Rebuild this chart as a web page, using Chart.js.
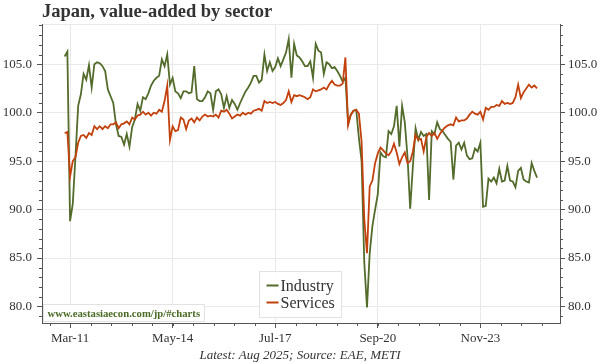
<!DOCTYPE html>
<html>
<head>
<meta charset="utf-8">
<script src="https://cdn.jsdelivr.net/npm/chart.js@4.4.1/dist/chart.umd.min.js"></script>
<style>
  html, body { margin: 0; padding: 0; background: #fff; }
</style>
</head>
<body>
<canvas id="chart" width="600" height="364"></canvas>
<script>
// Monthly series, Jan 2011 .. Aug 2025 (index 0 = Jan 2011)
const industry = [
  105.8, 106.3, 88.8, 90.6, 95.5, 100.7, 101.9, 104.0, 103.4, 104.9,
  102.6, 105.0, 105.2, 105.1, 104.8, 104.3, 102.4, 101.7, 101.0, 98.8,
  97.6, 97.5, 96.7, 97.8, 96.5, 98.5, 99.3, 100.9, 100.2, 101.6,
  101.4, 102.0, 102.8, 103.3, 103.6, 103.8, 105.5, 104.8, 106.0, 102.9,
  103.6, 102.2, 102.0, 101.5, 102.2, 102.2, 102.0, 102.1, 104.8, 101.4,
  101.2, 101.2, 101.6, 102.2, 102.0, 100.3, 102.2, 102.4, 101.9, 100.5,
  101.7, 100.5, 101.3, 100.9, 100.3, 101.0, 101.6, 102.2, 102.6, 103.1,
  103.8, 103.8, 103.1, 103.4, 106.0, 104.3, 105.2, 104.3, 104.7, 105.6,
  104.8, 105.5, 106.2, 107.6, 103.6, 107.1, 105.9, 105.7, 105.3, 104.8,
  104.8, 105.3, 103.6, 107.1, 106.4, 106.2, 104.0, 105.2, 105.0, 104.6,
  104.7, 104.3, 103.8, 103.2, 103.6, 98.9, 99.8, 100.2, 100.3, 97.4,
  95.0, 84.5, 79.9, 85.5, 88.3, 90.0, 91.6, 95.9, 95.5, 95.4,
  98.1, 97.8, 98.6, 100.7, 96.5, 100.7, 99.0, 95.5, 90.1, 94.5,
  98.4, 97.2, 98.0, 97.6, 97.8, 91.0, 98.1, 97.8, 99.0, 98.3,
  98.1, 97.7, 97.3, 97.0, 93.1, 96.6, 96.9, 96.2, 96.9, 95.6,
  95.2, 95.3, 96.3, 96.0, 96.9, 90.3, 90.4, 93.2, 92.9, 93.3,
  92.7, 94.2, 92.9, 93.0, 94.5, 93.0, 92.9, 92.3, 94.0, 94.3,
  93.1, 92.9, 92.8, 94.8, 94.0, 93.3
];
const services = [
  97.9, 98.0, 93.4, 95.0, 95.4, 96.9, 97.6, 97.7, 97.4, 97.9,
  97.7, 98.6, 98.3, 98.6, 98.3, 98.6, 98.4, 98.8, 98.8, 99.0,
  98.4, 98.8, 98.9, 99.1, 98.8, 99.5, 99.3, 99.7, 99.8, 100.1,
  99.8, 100.0, 99.7, 100.0, 99.9, 100.3, 100.1, 101.2, 102.8, 97.2,
  98.6, 98.1, 98.2, 99.5, 99.3, 98.3, 99.2, 99.4, 99.0, 99.5,
  99.2, 99.6, 99.8, 99.6, 99.7, 99.6, 99.8, 99.5, 100.2, 100.1,
  100.3, 99.9, 99.4, 99.6, 99.8, 99.7, 100.0, 99.8, 100.0, 99.9,
  100.2, 100.3, 100.4, 100.2, 101.2, 101.0, 101.1, 101.0, 101.1, 100.9,
  100.8, 101.0, 101.3, 102.2, 101.1, 101.8, 101.7, 101.8, 101.7, 101.6,
  101.4, 101.6, 102.4, 102.2, 102.3, 102.4, 102.6, 102.4, 102.9, 103.3,
  102.9, 102.8, 102.8, 103.0, 105.7, 98.7, 99.8, 100.2, 100.3, 99.9,
  97.0, 89.0, 85.5, 92.4, 93.0, 94.8, 95.8, 96.4, 96.1, 95.8,
  95.6, 96.0, 96.8, 95.9, 94.7, 95.4, 95.9, 94.8, 95.0, 96.0,
  97.7, 97.2, 97.3, 96.0, 97.5, 97.9, 97.6, 97.9, 97.3, 97.8,
  98.2, 98.5, 98.7, 98.8, 98.7, 99.5, 99.1, 99.2, 99.2, 99.4,
  99.8, 100.1, 99.9, 99.8, 100.1, 99.3, 100.5, 100.3, 100.6, 100.6,
  100.8, 100.7, 101.2, 100.9, 101.0, 100.9, 101.0, 101.6, 102.9, 101.5,
  102.1, 102.5, 102.9, 102.6, 102.8, 102.5
];

// Axis ticks
const xTickMonths = [2, 40, 78, 116, 154];
const xTickLabels = ['Mar-11', 'May-14', 'Jul-17', 'Sep-20', 'Nov-23'];
const yTicks = [80, 85, 90, 95, 100, 105];

const GREEN = '#536b2b';
const RED = '#c2410c';
const GRID = '#e9e9e9';
const AXIS = '#555555';
const TEXT = '#333333';

const toPoints = arr => arr.map((v, i) => ({ x: i, y: v }));

// --------------------------------------------------------------------------

// Petits ticks secondaires (x tous les 7.6 mois, y chaque point)
const minorTicks = {
    id: 'minorTicks',
    afterDraw(chart) {
        const { ctx, chartArea, scales } = chart;
        ctx.save();
        ctx.strokeStyle = AXIS;
        ctx.lineWidth = 1;
        ctx.beginPath();
        const xs = scales.x;
        for (let v = xTickMonths[0] - 7.6; v <= xs.max; v += 7.6) {
            if (v < xs.min) continue;
            const px = Math.round(xs.getPixelForValue(v)) + 0.5;
            ctx.moveTo(px, chartArea.bottom);
            ctx.lineTo(px, chartArea.bottom + 3);
        }
        const ys = scales.y;
        for (let v = Math.ceil(ys.min); v <= ys.max; v++) {
            if (v % 5 === 0) continue;
            const py = Math.round(ys.getPixelForValue(v)) + 0.5;
            ctx.moveTo(chartArea.left, py);
            ctx.lineTo(chartArea.left - 3, py);
            ctx.moveTo(chartArea.right, py);
            ctx.lineTo(chartArea.right + 3, py);
        }
        ctx.stroke();
        ctx.restore();
    }
};

// Légende dans le graphique + lien du site
const boxes = {
    id: 'boxes',
    afterDraw(chart) {
        const { ctx } = chart;
        ctx.save();
        // legend
        const lx = 259.5, ly = 271.5, lw = 82, lh = 46;
        ctx.fillStyle = 'rgba(255,255,255,0.9)';
        ctx.fillRect(lx, ly, lw, lh);
        ctx.strokeStyle = '#e2e2e2';
        ctx.lineWidth = 1;
        ctx.strokeRect(lx, ly, lw, lh);
        ctx.font = '16px "Liberation Serif"';
        ctx.textBaseline = 'middle';
        chart.data.datasets.forEach((ds, i) => {
            const y = ly + 14 + i * 17;
            ctx.strokeStyle = ds.borderColor;
            ctx.lineWidth = 2;
            ctx.beginPath();
            ctx.moveTo(lx + 7, y);
            ctx.lineTo(lx + 19, y);
            ctx.stroke();
            ctx.fillStyle = TEXT;
            ctx.fillText(ds.label, lx + 21, y + 1);
        });
        // watermark
        const wx = 43.5, wy = 304.5, ww = 161, wh = 17;
        ctx.fillStyle = 'rgba(255,255,255,0.9)';
        ctx.fillRect(wx, wy, ww, wh);
        ctx.strokeStyle = '#e2e2e2';
        ctx.lineWidth = 1;
        ctx.strokeRect(wx, wy, ww, wh);
        ctx.font = 'bold 10.7px "Liberation Serif"';
        ctx.fillStyle = '#4b6a25';
        ctx.fillText('www.eastasiaecon.com/jp/#charts', wx + 4, wy + wh / 2 + 1);
        ctx.restore();
    }
};

// --------------------------------------------------------------------------

const tickFont = { family: '"Liberation Serif"', size: 13 };

new Chart(document.getElementById('chart'), {
    type: 'line',
    data: {
        datasets: [
            {
                label: 'Industry',
                data: toPoints(industry),
                borderColor: GREEN,
                borderWidth: 1.8,
                pointRadius: 0,
                order: 1
            },
            {
                label: 'Services',
                data: toPoints(services),
                borderColor: RED,
                borderWidth: 1.8,
                pointRadius: 0,
                order: 0
            }
        ]
    },
    options: {
        responsive: false,
        animation: false,
        devicePixelRatio: 1,
        layout: { padding: 0 },
        plugins: {
            legend: { display: false },
            tooltip: { enabled: false },
            title: {
                display: true,
                text: 'Japan, value-added by sector',
                align: 'start',
                fullSize: false,
                color: TEXT,
                font: { family: '"Liberation Serif"', size: 18.5, weight: 'bold' },
                padding: { top: 1.5, bottom: 0.5 }
            },
            subtitle: {
                display: true,
                position: 'bottom',
                text: 'Latest: Aug 2025; Source: EAE, METI',
                color: TEXT,
                font: { family: '"Liberation Serif"', size: 13, style: 'italic' },
                padding: { top: 0, bottom: 1 }
            }
        },
        scales: {
            x: {
                type: 'linear',
                min: -8.4,
                max: 183.5,
                afterBuildTicks: s => { s.ticks = xTickMonths.map(v => ({ value: v })); },
                afterFit: s => { s.height = 24.4; },
                ticks: {
                    color: TEXT,
                    font: tickFont,
                    padding: 3,
                    maxRotation: 0,
                    callback: v => xTickLabels[xTickMonths.indexOf(v)]
                },
                grid: { color: GRID, tickColor: AXIS, tickLength: 5 },
                border: { color: AXIS }
            },
            xTop: {
                type: 'linear',
                position: 'top',
                min: -8.4,
                max: 183.5,
                ticks: { display: false },
                grid: { display: false },
                border: { color: GRID },
                afterFit: s => { s.height = 0; }
            },
            y: {
                position: 'left',
                min: 78.3,
                max: 109.13,
                afterBuildTicks: s => { s.ticks = yTicks.map(v => ({ value: v })); },
                afterFit: s => { s.width = 42; },
                ticks: {
                    color: TEXT,
                    font: tickFont,
                    padding: 5,
                    callback: v => v.toFixed(1)
                },
                grid: { color: GRID, tickColor: AXIS, tickLength: 5 },
                border: { color: AXIS }
            },
            y2: {
                position: 'right',
                min: 78.3,
                max: 109.13,
                afterBuildTicks: s => { s.ticks = yTicks.map(v => ({ value: v })); },
                afterFit: s => { s.width = 40; },
                ticks: {
                    color: TEXT,
                    font: tickFont,
                    padding: 3,
                    callback: v => v.toFixed(1)
                },
                grid: { drawOnChartArea: false, tickColor: AXIS, tickLength: 5 },
                border: { color: AXIS }
            }
        }
    },
    plugins: [minorTicks, boxes]
});
</script>
</body>
</html>
